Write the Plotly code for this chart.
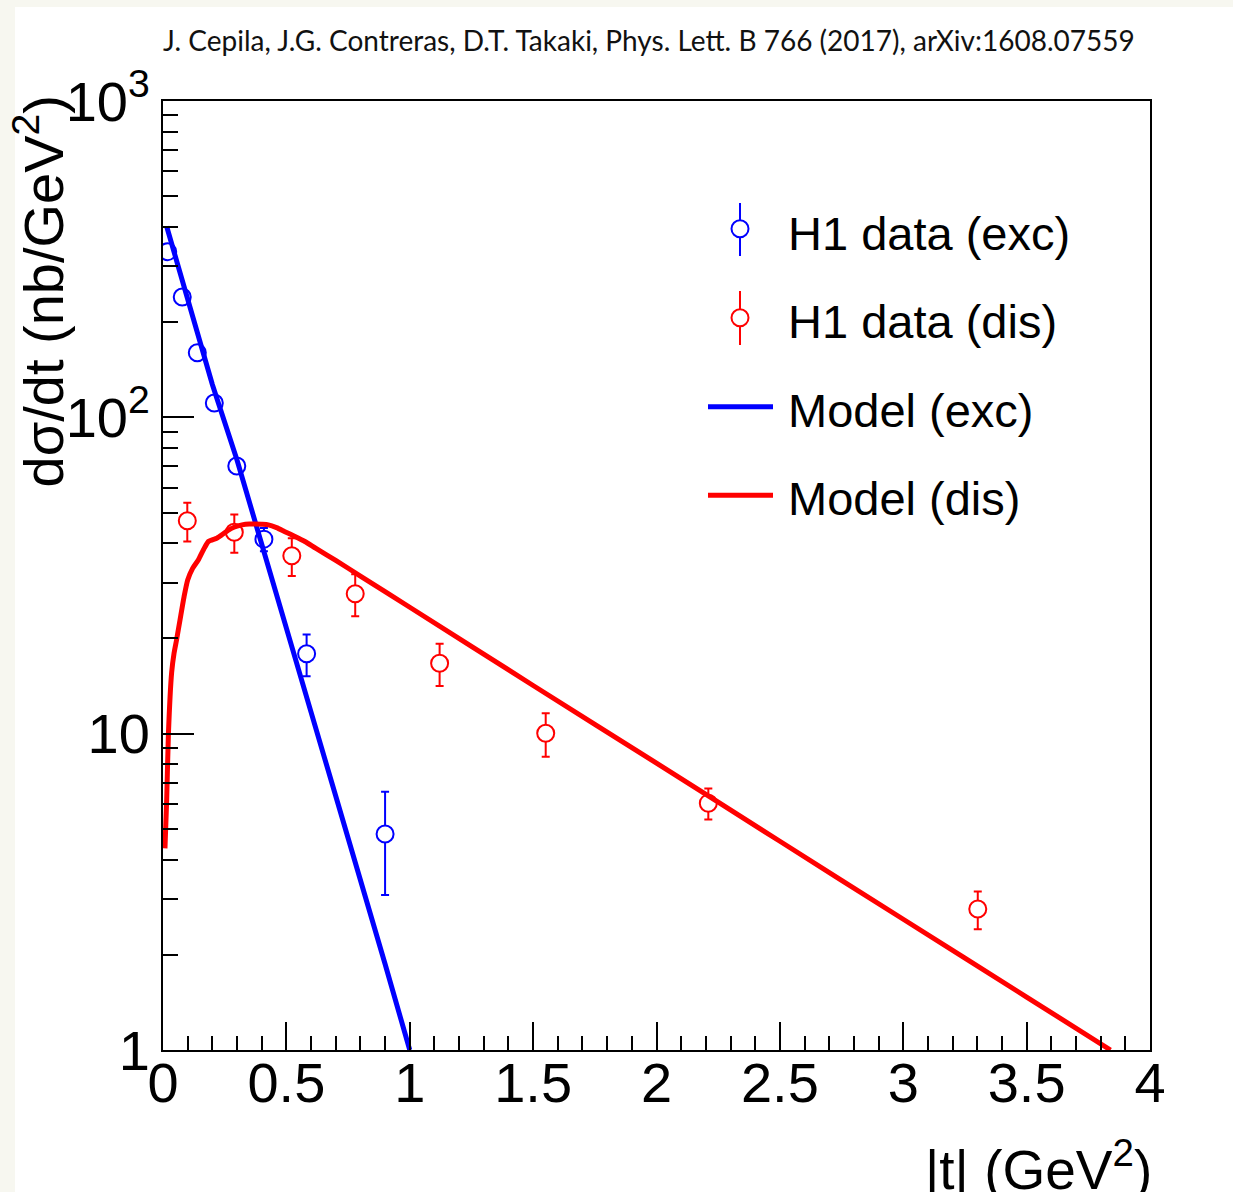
import plotly.graph_objects as go

# ---------------- data ----------------
exc_t = [0.019, 0.078, 0.139, 0.208, 0.299, 0.409, 0.582, 0.900]
exc_val = [334, 240, 160, 111, 70.2, 41.2, 17.9, 4.82]
exc_err = [10, 7, 5, 3.3, 2.5, 3.5, 2.7, 1.73]

dis_t = [0.0985, 0.289, 0.522, 0.779, 1.121, 1.551, 2.210, 3.302]
dis_val = [47.1, 43.3, 36.5, 27.7, 16.7, 10.03, 6.03, 2.79]
dis_err = [6.6, 6.0, 5.0, 4.2, 2.55, 1.57, 0.68, 0.38]

model_exc_t = [0.015, 0.1, 0.2, 0.3, 0.4, 0.5, 0.6, 0.7, 0.8, 0.9, 1.0]
model_exc_val = [401, 235, 127, 73.3, 40.1, 21.7, 11.7, 6.35, 3.47, 1.87, 1.0]

model_dis_t = [0.008, 0.015, 0.022, 0.035, 0.045, 0.055, 0.069, 0.085, 0.10, 0.12, 0.143,
               0.165, 0.184, 0.20, 0.218, 0.24, 0.265, 0.29, 0.32, 0.35, 0.373, 0.40,
               0.427, 0.46, 0.494, 0.535, 0.575, 0.62, 0.7, 0.8, 1.0, 1.5, 2.0, 2.5,
               3.0, 3.5, 3.84]
model_dis_val = [4.34, 6.2, 10.0, 15.6, 18.0, 19.8, 22.9, 27.0, 30.6, 33.3, 35.4,
                 38.3, 40.5, 41.0, 41.5, 42.6, 44.0, 45.0, 45.7, 46.0, 46.0, 45.9,
                 45.7, 44.8, 43.5, 42.0, 40.5, 38.5, 35.3, 31.5, 25.1, 14.2, 8.07, 4.57,
                 2.59, 1.47, 1.0]

x_tickvals = [0, 0.5, 1, 1.5, 2, 2.5, 3, 3.5, 4]
x_ticktext = ["0", "0.5", "1", "1.5", "2", "2.5", "3", "3.5", "4"]
y_tickvals = [1, 10, 100, 1000]
y_ticktext = ["1", "10", "10<sup>2</sup>", "10<sup>3</sup>"]
y_minor = [m * d for d in (1, 10, 100) for m in range(2, 10)]

legend_labels = ["H1 data (exc)", "H1 data (dis)", "Model (exc)", "Model (dis)"]
credit = "J. Cepila, J.G. Contreras, D.T. Takaki, Phys. Lett. B 766 (2017), arXiv:1608.07559"

BLUE = "#0000ff"
RED = "#ff0000"
CREAM = "#f7f7f0"
FONT = "Liberation Sans, Arial, Helvetica, sans-serif"

# ---------------- layout geometry ----------------
W, H = 1233, 1192
L, R, T, B = 163, 1150, 101, 1050
PW, PH = R - L, B - T


def px(xp):
    return (xp - L) / PW


def py(yp):
    return (B - yp) / PH


fig = go.Figure()

for t, v, e, c in [(exc_t, exc_val, exc_err, BLUE), (dis_t, dis_val, dis_err, RED)]:
    fig.add_trace(go.Scatter(
        x=t, y=v, mode="markers", showlegend=False,
        error_y=dict(type="data", array=e, visible=True, color=c, thickness=2, width=4),
        marker=dict(symbol="circle", size=17, color="white", line=dict(color=c, width=2)),
    ))

fig.add_trace(go.Scatter(x=model_exc_t, y=model_exc_val, mode="lines", showlegend=False,
                         line=dict(color=BLUE, width=5)))
fig.add_trace(go.Scatter(x=model_dis_t, y=model_dis_val, mode="lines", showlegend=False,
                         line=dict(color=RED, width=5, shape="spline", smoothing=0.6)))

shapes = []
# white page area over cream background
shapes.append(dict(type="rect", xref="paper", yref="paper", layer="below",
                   x0=px(15), x1=px(1240), y0=py(1200), y1=py(7),
                   fillcolor="white", line=dict(width=0)))

# manual legend glyphs
r = 8.5
for (cy, y0, y1, c) in [(228.7, 203, 256, BLUE), (317.7, 291, 345, RED)]:
    shapes.append(dict(type="line", xref="paper", yref="paper",
                       x0=px(740), x1=px(740), y0=py(y0), y1=py(y1),
                       line=dict(color=c, width=2)))
    shapes.append(dict(type="circle", xref="paper", yref="paper",
                       x0=px(740 - r), x1=px(740 + r), y0=py(cy + r), y1=py(cy - r),
                       fillcolor="white", line=dict(color=c, width=2)))
for (cy, c) in [(406.7, BLUE), (495.3, RED)]:
    shapes.append(dict(type="line", xref="paper", yref="paper",
                       x0=px(708), x1=px(773), y0=py(cy), y1=py(cy),
                       line=dict(color=c, width=5)))

annotations = []
for lab, cy in zip(legend_labels, [233.5, 321, 410, 498.3]):
    annotations.append(dict(text=lab, xref="paper", yref="paper", x=px(786), y=py(cy),
                            xanchor="left", yanchor="middle", showarrow=False,
                            font=dict(family=FONT, size=47, color="black")))

annotations.append(dict(text="dσ/dt (nb/GeV<sup>2</sup>)", xref="paper", yref="paper",
                        x=px(40), y=py(93), xanchor="center", yanchor="top",
                        textangle=-90, showarrow=False,
                        font=dict(family=FONT, size=56, color="black")))
annotations.append(dict(text="|t| (GeV<sup>2</sup>)", xref="paper", yref="paper",
                        x=px(1154), y=py(1166), xanchor="right", yanchor="middle",
                        showarrow=False, font=dict(family=FONT, size=55, color="black")))
annotations.append(dict(text=credit, xref="paper", yref="paper",
                        x=px(649), y=py(40), xanchor="center", yanchor="middle",
                        showarrow=False,
                        font=dict(family="Lato, Noto Sans, sans-serif", size=28, color="#111111")))

fig.update_layout(
    width=W, height=H,
    margin=dict(l=L, r=W - R, t=T, b=H - B, pad=0),
    paper_bgcolor=CREAM, plot_bgcolor="white",
    showlegend=False,
    shapes=shapes, annotations=annotations,
    xaxis=dict(range=[0, 4], tickvals=x_tickvals, ticktext=x_ticktext,
               ticks="inside", ticklen=28, tickwidth=2, tickcolor="black",
               ticklabelstandoff=-17,
               showgrid=False, zeroline=False,
               showline=True, linecolor="black", linewidth=2, mirror=True,
               tickfont=dict(family=FONT, size=56, color="black"),
               minor=dict(dtick=0.1, tick0=0, ticks="inside", ticklen=14, tickwidth=2,
                          tickcolor="black", showgrid=False)),
    yaxis=dict(type="log", range=[0, 3], tickvals=y_tickvals, ticktext=y_ticktext,
               ticks="inside", ticklen=31, tickwidth=2, tickcolor="black",
               showgrid=False, zeroline=False,
               showline=True, linecolor="black", linewidth=2, mirror=True,
               tickfont=dict(family=FONT, size=56, color="black"),
               minor=dict(tickvals=y_minor, ticks="inside", ticklen=15, tickwidth=2,
                          tickcolor="black", showgrid=False)),
)

fig.write_html(
    "out.html",
    config={"displayModeBar": False},
    post_script="document.body.style.margin='0px';"
                "document.body.style.background='" + CREAM + "';"
                "document.body.style.overflow='hidden';",
)
